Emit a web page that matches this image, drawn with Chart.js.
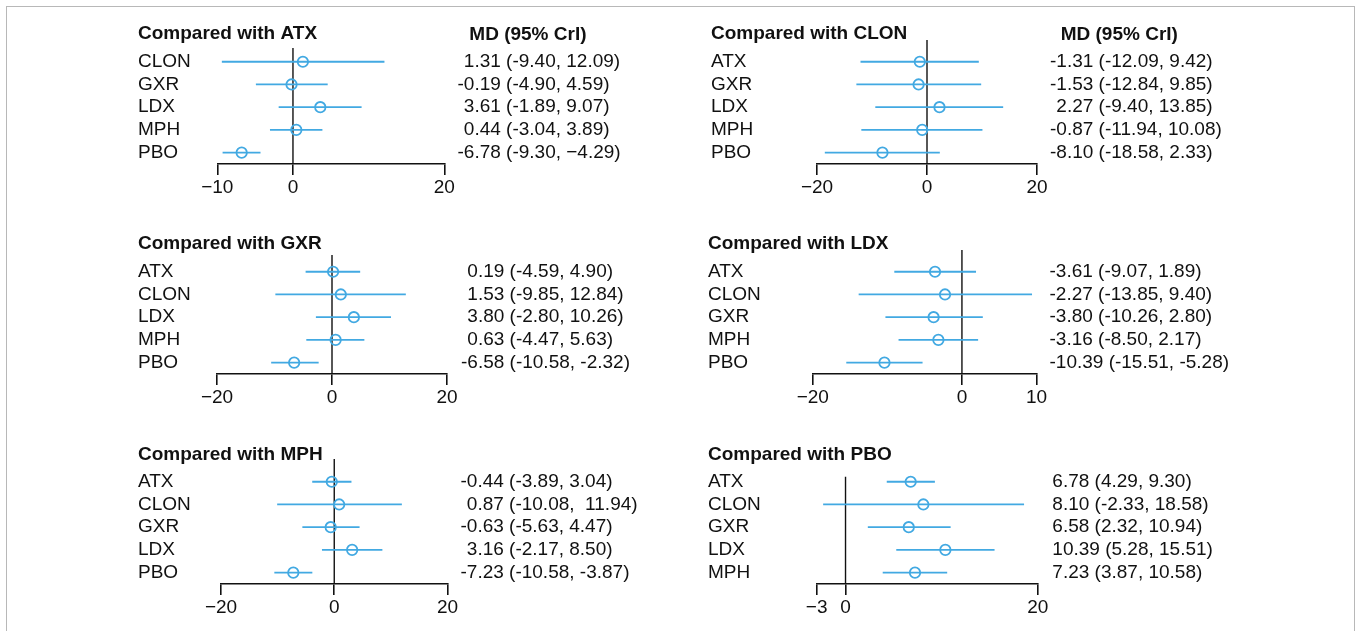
<!DOCTYPE html>
<html>
<head>
<meta charset="utf-8">
<script src="https://cdn.jsdelivr.net/npm/chart.js@4/dist/chart.umd.min.js"></script>
<style>
html,body{margin:0;padding:0;background:#fff;}
#wrap{position:relative;width:1359px;height:631px;overflow:hidden;background:#fff;}
#frame{position:absolute;left:6px;top:6px;width:1349px;height:680px;border:1.5px solid #b8b8b8;box-sizing:border-box;}
#wrap canvas{position:absolute;left:0;top:0;}
</style>
</head>
<body>
<div id="wrap">
<div id="frame"></div>
<canvas id="c0" width="1359" height="631"></canvas>
<canvas id="c1" width="1359" height="631"></canvas>
<canvas id="c2" width="1359" height="631"></canvas>
<canvas id="c3" width="1359" height="631"></canvas>
<canvas id="c4" width="1359" height="631"></canvas>
<canvas id="c5" width="1359" height="631"></canvas>
</div>
<script>
// ---------------- DATA ----------------
const panelTitles = ["Compared with ATX","Compared with CLON","Compared with GXR","Compared with LDX","Compared with MPH","Compared with PBO"];
const headerText = "MD (95% CrI)";

const atxLabels = ["CLON","GXR","LDX","MPH","PBO"];
const atxMD = [1.31,-0.19,3.61,0.44,-6.78];
const atxLo = [-9.40,-4.90,-1.89,-3.04,-9.30];
const atxHi = [12.09,4.59,9.07,3.89,-4.29];
const atxText = ["1.31 (-9.40, 12.09)","-0.19 (-4.90, 4.59)","3.61 (-1.89, 9.07)","0.44 (-3.04, 3.89)","-6.78 (-9.30, \u22124.29)"];

const clonLabels = ["ATX","GXR","LDX","MPH","PBO"];
const clonMD = [-1.31,-1.53,2.27,-0.87,-8.10];
const clonLo = [-12.09,-12.84,-9.40,-11.94,-18.58];
const clonHi = [9.42,9.85,13.85,10.08,2.33];
const clonText = ["-1.31 (-12.09, 9.42)","-1.53 (-12.84, 9.85)","2.27 (-9.40, 13.85)","-0.87 (-11.94, 10.08)","-8.10 (-18.58, 2.33)"];

const gxrLabels = ["ATX","CLON","LDX","MPH","PBO"];
const gxrMD = [0.19,1.53,3.80,0.63,-6.58];
const gxrLo = [-4.59,-9.85,-2.80,-4.47,-10.58];
const gxrHi = [4.90,12.84,10.26,5.63,-2.32];
const gxrText = ["0.19 (-4.59, 4.90)","1.53 (-9.85, 12.84)","3.80 (-2.80, 10.26)","0.63 (-4.47, 5.63)","-6.58 (-10.58, -2.32)"];

const ldxLabels = ["ATX","CLON","GXR","MPH","PBO"];
const ldxMD = [-3.61,-2.27,-3.80,-3.16,-10.39];
const ldxLo = [-9.07,-13.85,-10.26,-8.50,-15.51];
const ldxHi = [1.89,9.40,2.80,2.17,-5.28];
const ldxText = ["-3.61 (-9.07, 1.89)","-2.27 (-13.85, 9.40)","-3.80 (-10.26, 2.80)","-3.16 (-8.50, 2.17)","-10.39 (-15.51, -5.28)"];

const mphLabels = ["ATX","CLON","GXR","LDX","PBO"];
const mphMD = [-0.44,0.87,-0.63,3.16,-7.23];
const mphLo = [-3.89,-10.08,-5.63,-2.17,-10.58];
const mphHi = [3.04,11.94,4.47,8.50,-3.87];
const mphText = ["-0.44 (-3.89, 3.04)","0.87 (-10.08,  11.94)","-0.63 (-5.63, 4.47)","3.16 (-2.17, 8.50)","-7.23 (-10.58, -3.87)"];

const pboLabels = ["ATX","CLON","GXR","LDX","MPH"];
const pboMD = [6.78,8.10,6.58,10.39,7.23];
const pboLo = [4.29,-2.33,2.32,5.28,3.87];
const pboHi = [9.30,18.58,10.94,15.51,10.58];
const pboText = ["6.78 (4.29, 9.30)","8.10 (-2.33, 18.58)","6.58 (2.32, 10.94)","10.39 (5.28, 15.51)","7.23 (3.87, 10.58)"];

const axisMin = [-10,-20,-20,-20,-20,-3];
const axisMax = [20,20,20,10,20,20];
const axisTicks = [[-10,0,20],[-20,0,20],[-20,0,20],[-20,0,10],[-20,0,20],[-3,0,20]];

// ---------------- LAYOUT / STYLE ----------------
const W = 1359, H = 631;
const FONT = "'Liberation Sans', Arial, Helvetica, sans-serif";
const FS = 19;
const BLUE = "#42a9e2";
const INK = "#111111";
const Y_MAX = 5.5;          // y scale: rows at 1..5, axis at 5.5
const AREA_H = 125;         // chart area height in px
const TICK_LEN = 11, TICK_PAD = 1;
const AXIS_H = TICK_LEN + FS * 1.2 + 2 * TICK_PAD;

const layouts = [
  {x0:217.3, x1:444.3, axisY:164, zTop:0.40, titleX:138, titleY:33.3, labelX:138, valueX:457.5, headerX:469.3, headerY:34.5},
  {x0:817,   x1:1037,  axisY:164, zTop:0.04, titleX:711, titleY:33.3, labelX:711, valueX:1050,  headerX:1060.7, headerY:34.5},
  {x0:217,   x1:447,   axisY:374, zTop:0.26, titleX:138, titleY:243.3, labelX:138, valueX:461},
  {x0:812.8, x1:1036.5,axisY:374, zTop:0.04, titleX:708, titleY:243.3, labelX:708, valueX:1049.5},
  {x0:221,   x1:447.5, axisY:584, zTop:0.0,  titleX:138, titleY:455,   labelX:138, valueX:460.5},
  {x0:816.7, x1:1037.7,axisY:584, zTop:0.78, titleX:708, titleY:455,   labelX:708, valueX:1046}
];

const panels = [
  {labels:atxLabels, md:atxMD, lo:atxLo, hi:atxHi, text:atxText, header:true},
  {labels:clonLabels, md:clonMD, lo:clonLo, hi:clonHi, text:clonText, header:true},
  {labels:gxrLabels, md:gxrMD, lo:gxrLo, hi:gxrHi, text:gxrText, header:false},
  {labels:ldxLabels, md:ldxMD, lo:ldxLo, hi:ldxHi, text:ldxText, header:false},
  {labels:mphLabels, md:mphMD, lo:mphLo, hi:mphHi, text:mphText, header:false},
  {labels:pboLabels, md:pboMD, lo:pboLo, hi:pboHi, text:pboText, header:false}
];

Chart.defaults.font.family = FONT;
Chart.defaults.color = INK;

const textPlugin = {
  id: 'forestText',
  afterDraw(chart, args, opts) {
    const {ctx} = chart;
    const p = opts.panel, L = opts.layout, title = opts.title;
    const ys = chart.scales.y;
    ctx.save();
    ctx.fillStyle = INK;
    ctx.textBaseline = 'middle';
    ctx.textAlign = 'left';
    ctx.font = `bold ${FS}px ${FONT}`;
    ctx.fillText(title, L.titleX, L.titleY);
    if (p.header) ctx.fillText(headerText, L.headerX, L.headerY);
    ctx.font = `${FS}px ${FONT}`;
    const dash = ctx.measureText('-').width;
    p.labels.forEach((lab, i) => {
      const y = ys.getPixelForValue(i + 1);
      ctx.fillText(lab, L.labelX, y);
      const t = p.text[i];
      const neg = t.charAt(0) === '-' || t.charAt(0) === '\u2212';
      ctx.fillText(t, L.valueX + (neg ? 0 : dash), y);
    });
    ctx.restore();
  }
};

panels.forEach((p, k) => {
  const L = layouts[k];
  const datasets = [];
  // circles (on top)
  datasets.push({
    data: p.md.map((v, i) => ({x: v, y: i + 1})),
    showLine: false,
    pointStyle: 'circle',
    pointRadius: 5.2,
    pointHoverRadius: 5.2,
    pointBorderWidth: 1.8,
    pointBorderColor: BLUE,
    pointBackgroundColor: 'rgba(255,255,255,0)',
    order: 0
  });
  // interval segments
  p.lo.forEach((lo, i) => {
    datasets.push({
      data: [{x: lo, y: i + 1}, {x: p.hi[i], y: i + 1}],
      showLine: true,
      borderColor: BLUE,
      borderWidth: 1.8,
      pointRadius: 0,
      pointHoverRadius: 0,
      order: 1
    });
  });
  // reference line at zero
  datasets.push({
    data: [{x: 0, y: L.zTop}, {x: 0, y: Y_MAX}],
    showLine: true,
    borderColor: INK,
    borderWidth: 1.4,
    pointRadius: 0,
    pointHoverRadius: 0,
    order: 2
  });

  const top = L.axisY - AREA_H;
  new Chart(document.getElementById('c' + k), {
    type: 'scatter',
    data: {datasets},
    options: {
      responsive: false,
      animation: false,
      events: [],
      layout: {padding: {left: L.x0, right: W - L.x1, top: top, bottom: H - L.axisY - AXIS_H}},
      plugins: {
        legend: {display: false},
        tooltip: {enabled: false},
        forestText: {panel: p, layout: L, title: panelTitles[k]}
      },
      scales: {
        x: {
          type: 'linear',
          min: axisMin[k],
          max: axisMax[k],
          afterBuildTicks: (s) => { s.ticks = axisTicks[k].map(v => ({value: v})); },
          grid: {display: true, drawOnChartArea: false, drawTicks: true, tickLength: TICK_LEN, color: INK, lineWidth: 1.6},
          border: {display: true, color: INK, width: 1.6},
          ticks: {
            font: {size: FS, family: FONT},
            color: INK,
            padding: TICK_PAD,
            autoSkip: false,
            maxRotation: 0,
            callback: (v) => String(v).replace('-', '\u2212')
          }
        },
        y: {type: 'linear', display: false, reverse: true, min: 0, max: Y_MAX}
      }
    },
    plugins: [textPlugin]
  });
});
</script>
</body>
</html>
